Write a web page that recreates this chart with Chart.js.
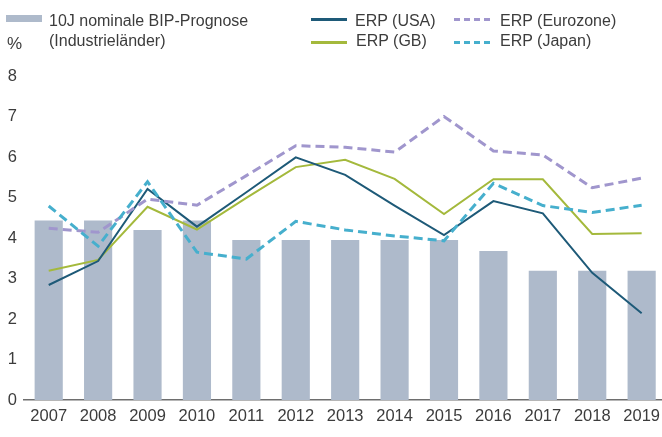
<!DOCTYPE html>
<html>
<head>
<meta charset="utf-8">
<script src="https://cdn.jsdelivr.net/npm/chart.js@4/dist/chart.umd.min.js"></script>
<style>
  html, body { margin: 0; padding: 0; background: #fff; overflow: hidden; }
  #wrap { position: relative; width: 667px; height: 437px; }
  #wrap canvas { position: absolute; left: 0; top: 0; }
  .lg { position: absolute; font-family: "Liberation Sans", Arial, sans-serif; font-size: 16px; line-height: 20px; color: #3c3c3c; white-space: nowrap; }
  .sw { position: absolute; }
  .pct { position: absolute; font-family: "Liberation Sans", Arial, sans-serif; font-size: 17px; line-height: 20px; color: #3c3c3c; }
</style>
</head>
<body>
<div id="wrap">
  <canvas id="c"></canvas>
  <div class="sw" style="left:6px;top:15px;width:36px;height:7px;background:#aebacb"></div>
  <div class="lg" style="left:49px;top:10.5px">10J nominale BIP-Prognose</div>
  <div class="lg" style="left:49px;top:31px">(Industrieländer)</div>
  <div class="pct" style="left:7px;top:34px">%</div>

  <div class="sw" style="left:311px;top:18px;width:36px;height:3px;background:#1e5a78"></div>
  <div class="lg" style="left:355px;top:10.5px">ERP (USA)</div>
  <div class="sw" style="left:311px;top:41px;width:36px;height:3px;background:#a4b93c"></div>
  <div class="lg" style="left:356px;top:31px">ERP (GB)</div>

  <div class="sw" style="left:454px;top:18px;width:37px;height:3px;background:repeating-linear-gradient(90deg,#a096cd 0 6.5px,transparent 6.5px 10px)"></div>
  <div class="lg" style="left:500px;top:10.5px">ERP (Eurozone)</div>
  <div class="sw" style="left:454px;top:41px;width:37px;height:3px;background:repeating-linear-gradient(90deg,#46afcd 0 6.5px,transparent 6.5px 10px)"></div>
  <div class="lg" style="left:500px;top:31px">ERP (Japan)</div>
</div>
<script>
const years = ['2007','2008','2009','2010','2011','2012','2013','2014','2015','2016','2017','2018','2019'];
const gdpForecast = [4.43, 4.43, 4.2, 4.43, 3.95, 3.95, 3.95, 3.95, 3.95, 3.68, 3.19, 3.19, 3.19];
const erpUSA      = [2.84, 3.43, 5.21, 4.28, 5.13, 5.99, 5.56, 4.80, 4.07, 4.91, 4.61, 3.14, 2.14];
const erpGB       = [3.19, 3.46, 4.77, 4.21, 4.99, 5.75, 5.93, 5.46, 4.59, 5.45, 5.45, 4.10, 4.12];
const erpEurozone = [4.24, 4.14, 4.96, 4.81, 5.54, 6.28, 6.24, 6.12, 7.00, 6.15, 6.05, 5.24, 5.48];
const erpJapan    = [4.79, 3.80, 5.39, 3.65, 3.48, 4.41, 4.20, 4.05, 3.93, 5.35, 4.80, 4.63, 4.81];
const yTicks = [0, 1, 2, 3, 4, 5, 6, 7, 8];

const tickFont = { family: '"Liberation Sans", Arial, sans-serif', size: 16.5 };
const lineBase = { type: 'line', pointRadius: 0, pointHoverRadius: 0, tension: 0, fill: false };

new Chart(document.getElementById('c'), {
  type: 'bar',
  data: {
    labels: years,
    datasets: [
      { ...lineBase, label: 'ERP (Japan)', data: erpJapan, borderColor: '#46afcd', borderWidth: 3, borderDash: [9, 5], order: 1 },
      { ...lineBase, label: 'ERP (Eurozone)', data: erpEurozone, borderColor: '#a096cd', borderWidth: 3, borderDash: [9, 5], order: 2 },
      { ...lineBase, label: 'ERP (USA)', data: erpUSA, borderColor: '#1e5a78', borderWidth: 2, order: 3 },
      { ...lineBase, label: 'ERP (GB)', data: erpGB, borderColor: '#a4b93c', borderWidth: 2, order: 4 },
      { type: 'bar', label: '10J nominale BIP-Prognose (Industrieländer)', data: gdpForecast, backgroundColor: '#aebacb', barPercentage: 0.57, categoryPercentage: 1.0, order: 10 }
    ]
  },
  options: {
    responsive: true,
    maintainAspectRatio: false,
    animation: false,
    layout: { padding: { top: 76, left: 0, right: 0, bottom: 0 } },
    plugins: { legend: { display: false }, tooltip: { enabled: false } },
    scales: {
      x: {
        grid: { display: false, drawTicks: false },
        border: { display: true, color: '#6e6e6e', width: 1.5 },
        ticks: { color: '#3c3c3c', font: tickFont, padding: 7, maxRotation: 0 },
        afterFit: s => { s.height = 37; }
      },
      y: {
        min: 0, max: 8,
        grid: { display: false, drawTicks: false },
        border: { display: false },
        afterBuildTicks: s => { s.ticks = yTicks.map(v => ({ value: v })); },
        ticks: { color: '#3c3c3c', font: tickFont, padding: 7 },
        afterFit: s => { s.width = 24; }
      }
    }
  }
});
</script>
</body>
</html>
